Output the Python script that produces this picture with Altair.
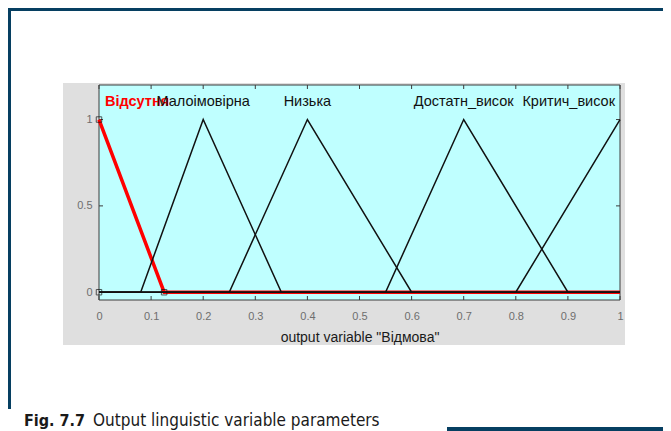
import altair as alt
import pandas as pd

# ---- data ----
mf_names = ["Відсутня", "Малоімовірна", "Низька", "Достатн_висок", "Критич_висок"]
mf_a = [0.0, 0.08, 0.25, 0.55, 0.8]
mf_b = [0.0, 0.2, 0.4, 0.7, 1.0]
mf_c = [0.125, 0.35, 0.6, 0.9, 1.2]
selected = "Відсутня"
x_range = [0.0, 1.0]
y_range = [-0.045, 1.2]
x_ticks = [0, 0.1, 0.2, 0.3, 0.4, 0.5, 0.6, 0.7, 0.8, 0.9, 1]
y_ticks = [0, 0.5, 1]
label_level = 1.1
axis_title = 'output variable "Відмова"'
caption_bold = "Fig. 7.7"
caption_text = "Output linguistic variable parameters"

W, H = 521, 215
PAD = {"left": 91, "top": 77, "right": 43, "bottom": 131}


def trimf(x, a, b, c):
    if x == b:
        return 1.0
    if a < x < b:
        return (x - a) / (b - a)
    if b < x < c:
        return (c - x) / (c - b)
    return 0.0


rows = []
for name, a, b, c in zip(mf_names, mf_a, mf_b, mf_c):
    xs = sorted(set(v for v in [x_range[0], a, b, c, x_range[1]] if x_range[0] <= v <= x_range[1]))
    for i, xv in enumerate(xs):
        rows.append({"name": name, "order": i, "x": xv, "y": trimf(xv, a, b, c)})
mf_df = pd.DataFrame(rows)
sel_df = mf_df[mf_df["name"] == selected]
other_df = mf_df[mf_df["name"] != selected]

si = mf_names.index(selected)
vert_df = pd.DataFrame({
    "x": [mf_a[si], mf_b[si], mf_c[si]],
    "y": [0.0, 1.0, 0.0],
})

lab_df = pd.DataFrame({"name": mf_names, "x": mf_b, "y": [label_level] * len(mf_names)})
xt_df = pd.DataFrame({"x": x_ticks})
yt_df = pd.DataFrame({"y": y_ticks})
dummy = pd.DataFrame({"d": [0]})

FONT = "Liberation Sans"
CAP_FONT = "DejaVu Sans Condensed, Roboto Condensed, Liberation Sans Narrow, Roboto, sans-serif"

x_enc = alt.X(
    "x:Q",
    scale=alt.Scale(domain=x_range, nice=False, zero=False),
    axis=alt.Axis(
        values=x_ticks, format=".1~f", ticks=False, domain=False, grid=False,
        labelPadding=10, labelFontSize=11, labelColor="#6e6e6e", labelFont=FONT,
        labelFlush=False, title=axis_title, titleFontSize=14, titleFontWeight="normal",
        titleColor="#1a1a1a", titleFont=FONT, titlePadding=9, zindex=2,
    ),
)
y_enc = alt.Y(
    "y:Q",
    scale=alt.Scale(domain=y_range, nice=False, zero=False),
    axis=alt.Axis(
        values=y_ticks, format=".1~f", ticks=False, domain=False, grid=False,
        labelPadding=7, labelFontSize=11, labelColor="#6e6e6e", labelFont=FONT,
        title=None, zindex=2,
    ),
)

# ---- decorations (page frame, grey panel, plot box) ----
grey_panel = alt.Chart(dummy).mark_rect(fill="#dfdfdf").encode(
    x=alt.value(-36), x2=alt.value(526), y=alt.value(-2), y2=alt.value(260)
)
plot_box = alt.Chart(dummy).mark_rect(fill="#bfffff", stroke="#3c3c3c", strokeWidth=1).encode(
    x=alt.value(0), x2=alt.value(W), y=alt.value(0), y2=alt.value(H)
)
blue_left = alt.Chart(dummy).mark_rect(fill="#063f61").encode(
    x=alt.value(-91), x2=alt.value(-88), y=alt.value(-77), y2=alt.value(324)
)
blue_top = alt.Chart(dummy).mark_rect(fill="#063f61").encode(
    x=alt.value(-91), x2=alt.value(580), y=alt.value(-77), y2=alt.value(-74)
)
blue_bottom = alt.Chart(dummy).mark_rect(fill="#063f61").encode(
    x=alt.value(348), x2=alt.value(580), y=alt.value(342), y2=alt.value(350)
)
cap1 = alt.Chart(dummy).mark_text(
    text=caption_bold, align="left", baseline="alphabetic", font=CAP_FONT,
    fontSize=16, fontWeight="bold", color="#1a1a1a"
).encode(x=alt.value(-75), y=alt.value(341))
cap2 = alt.Chart(dummy).mark_text(
    text=caption_text, align="left", baseline="alphabetic", font=CAP_FONT,
    fontSize=17, color="#1a1a1a"
).encode(x=alt.value(-6), y=alt.value(341))

# ---- inward ticks ----
top_ticks = alt.Chart(xt_df).mark_rule(color="#3c3c3c", strokeWidth=1).encode(
    x=x_enc, y=alt.value(0), y2=alt.value(4)
)
bot_ticks = alt.Chart(xt_df).mark_rule(color="#3c3c3c", strokeWidth=1).encode(
    x=x_enc, y=alt.value(H), y2=alt.value(H - 4)
)
left_ticks = alt.Chart(yt_df).mark_rule(color="#3c3c3c", strokeWidth=1).encode(
    y=y_enc, x=alt.value(0), x2=alt.value(4)
)
right_ticks = alt.Chart(yt_df).mark_rule(color="#3c3c3c", strokeWidth=1).encode(
    y=y_enc, x=alt.value(W), x2=alt.value(W - 4)
)

# ---- membership functions ----
red_line = alt.Chart(sel_df).mark_line(color="#ff0000", strokeWidth=3.5).encode(
    x=x_enc, y=y_enc, order="order:Q"
)
black_lines = alt.Chart(other_df).mark_line(color="#111111", strokeWidth=1.5).encode(
    x=x_enc, y=y_enc, detail="name:N", order="order:Q"
)
verts = alt.Chart(vert_df).mark_point(shape="square", filled=False, color="#111111", size=30, strokeWidth=1).encode(
    x=x_enc, y=y_enc
)

lab_first = alt.Chart(lab_df.iloc[[0]]).mark_text(
    align="left", baseline="middle", dx=6, font=FONT, fontSize=14.5, fontWeight="bold", color="#ff0000"
).encode(x=x_enc, y=y_enc, text="name:N")
lab_mid = alt.Chart(lab_df.iloc[1:-1]).mark_text(
    align="center", baseline="middle", font=FONT, fontSize=14.5, color="#111111"
).encode(x=x_enc, y=y_enc, text="name:N")
lab_last = alt.Chart(lab_df.iloc[[-1]]).mark_text(
    align="right", baseline="middle", dx=-5, font=FONT, fontSize=14.5, color="#111111"
).encode(x=x_enc, y=y_enc, text="name:N")

chart = alt.layer(
    grey_panel, plot_box, blue_left, blue_top, blue_bottom, cap1, cap2,
    top_ticks, bot_ticks, left_ticks, right_ticks,
    red_line, black_lines, verts, lab_first, lab_mid, lab_last,
).properties(
    width=W, height=H,
    padding=PAD,
    autosize=alt.AutoSizeParams(type="none"),
    background="white",
).configure_view(stroke=None)

chart.save("out.html", embed_options={"renderer": "svg", "actions": False})
